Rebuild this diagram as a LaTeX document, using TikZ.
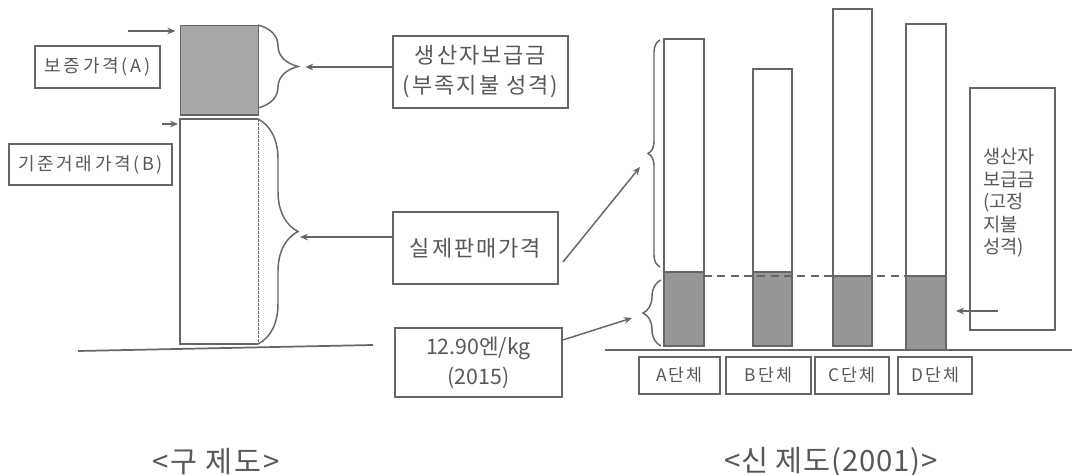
\documentclass[tikz,border=0pt]{standalone}
\usepackage{fontspec}
\setmainfont{Noto Sans CJK KR}
\usetikzlibrary{decorations.pathreplacing,arrows.meta}
\definecolor{ln}{HTML}{666666}
\definecolor{tx}{HTML}{585858}
\definecolor{fillA}{HTML}{A8A8A8}
\definecolor{fillbar}{HTML}{969696}
\newcommand{\ls}[1]{\addfontfeature{LetterSpace=#1}}
\begin{document}
\begin{tikzpicture}[x=0.75pt,y=-0.75pt,
 box/.style={draw=ln, line width=1.1pt, inner sep=0pt, align=center, text=tx},
 arr/.style={draw=ln, line width=1.1pt, -{Stealth[length=6pt,width=5pt]}},
 bar/.style={draw=ln, line width=1.2pt},
 brc/.style={draw=ln, line width=1.1pt, decorate, decoration={brace,amplitude=#1}},
 lbl/.style={text=tx, inner sep=0pt}]
\useasboundingbox (0,0) rectangle (1072,475);

% ---------- old system ----------
\node[draw=ln, line width=1.1pt, fill=fillA, minimum width=58.5pt, minimum height=67.5pt, anchor=north west, inner sep=0pt] (gA) at (180,25) {};
\draw[ln, line width=1.8pt] (180,115) -- (258,115);
\draw[ln, line width=1.1pt] (258,119) -- (180,119) -- (180,344) -- (258,344);
\draw[ln, line width=0.5pt, dashed, dash pattern=on 2pt off 1pt] (258,119) -- (258,344);
\coordinate (bA) at (298,67);
\coordinate (bB) at (298,232);
\draw[brc=30pt] (258,25) -- (258,108);
\draw[brc=30pt] (258,119) -- (258,344);

\node[box, minimum width=93.75pt, minimum height=31.5pt, font={\fontsize{13.5}{15}\selectfont\ls{15}}] (lA) at (97.5,67) {보증가격(A)};
\node[box, minimum width=122.25pt, minimum height=30.75pt, font={\fontsize{13.5}{15}\selectfont\ls{15}}] (lB) at (90.5,164.5) {기준거래가격(B)};

\coordinate (a1) at (128,31);
\draw[arr] (a1) -- ([xshift=-3.5pt]a1 -| gA.west);
\coordinate (a2) at (162,124);
\draw[arr] (a2) -- (178,124);

\node[box, minimum width=131.25pt, minimum height=54pt, font={\fontsize{16.5}{22.5}\selectfont\ls{9}}] (sub1) at (480.5,72) {생산자보급금\\(부족지불 성격)};
\node[box, minimum width=123.75pt, minimum height=54pt, font={\fontsize{16.5}{19.5}\selectfont\ls{9}}] (act) at (475.5,248) {실제판매가격};
\node[box, minimum width=125.25pt, minimum height=51.75pt, font={\fontsize{16}{22.5}\selectfont}] (prc) at (478.5,362.5) {12.90엔/kg\\(2015)};

\draw[arr] (sub1.west |- bA) -- ([xshift=5.5pt]bA);
\draw[arr] (act.west |- 0,237) -- ([xshift=1.5pt]bB |- 0,237);

\draw[ln, line width=1.3pt] (78,351) -- (373,345);

\node[lbl, font={\fontsize{22}{24}\selectfont\ls{6}}] (cap1) at (216,462) {<구 제도>};

% ---------- new system ----------
\draw[ln, line width=1.3pt] (605,350) -- (1072,350);

\filldraw[bar, fill=fillbar] (664,272) rectangle (704,346);
\draw[bar] (664,39) rectangle (704,346);
\filldraw[bar, fill=fillbar] (753,272) rectangle (792,346);
\draw[bar] (753,69) rectangle (792,346);
\filldraw[bar, fill=fillbar] (833,276) rectangle (872,346);
\draw[bar] (833,9) rectangle (872,346);
\filldraw[bar, fill=fillbar] (906,276) rectangle (946,350);
\draw[bar] (906,24) rectangle (946,350);

\draw[ln, line width=1.2pt, dash pattern=on 6pt off 4pt] (704,276) -- (906,276);

\coordinate (bU) at (648,155);
\coordinate (bL) at (643,312);
\draw[brc=9pt] (660,267) -- (660,40);
\draw[brc=13.5pt] (661,346) -- (661,280);

\node[box, minimum width=63.75pt, minimum height=181.5pt] (rb) at (1012.5,209) {};
\node[lbl, anchor=north west, align=left, font={\fontsize{14}{16.9}\selectfont}] (rbt) at (983,148) {생산자\\보급금\\(고정\\지불\\성격)};

\draw[arr] (563,262) -- (640,167);
\draw[arr] (prc.east |- 0,340) -- (632,318);
\draw[arr] (998,311) -- (956,311);

\node[box, minimum width=60.75pt, minimum height=27.75pt, font={\fontsize{13}{14}\selectfont\ls{12}}] (uA) at (679.5,375.5) {A단체};
\node[box, minimum width=63.75pt, minimum height=27.75pt, font={\fontsize{13}{14}\selectfont\ls{12}}] (uB) at (768.5,375.5) {B단체};
\node[box, minimum width=55.5pt, minimum height=27.75pt, font={\fontsize{13}{14}\selectfont\ls{12}}] (uC) at (852,375.5) {C단체};
\node[box, minimum width=55.5pt, minimum height=27.75pt, font={\fontsize{13}{14}\selectfont\ls{12}}] (uD) at (935,375.5) {D단체};

\node[lbl, font={\fontsize{22}{24}\selectfont\ls{3}}] (cap2) at (831,462) {<신 제도(2001)>};
\end{tikzpicture}
\end{document}
